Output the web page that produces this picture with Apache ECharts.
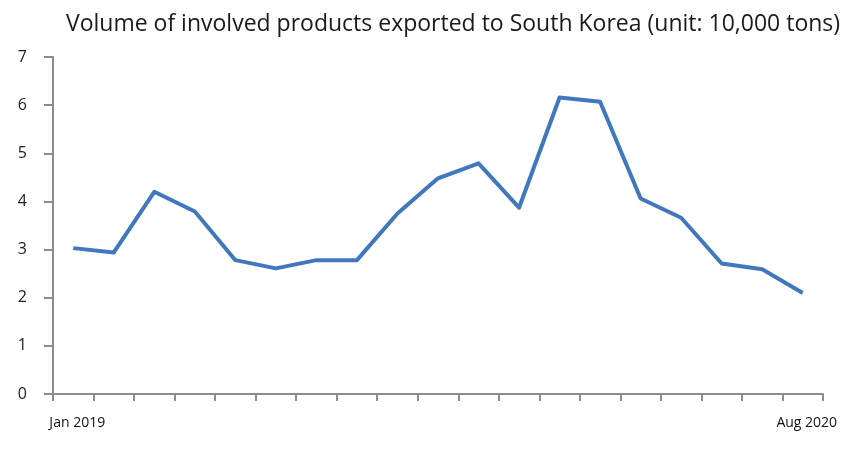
<!DOCTYPE html>
<html>
<head>
<meta charset="utf-8">
<script src="https://cdn.jsdelivr.net/npm/echarts@6/dist/echarts.min.js"></script>
<style>
html,body{margin:0;padding:0;background:#fff;}
#chart{width:863px;height:453px;}
</style>
</head>
<body>
<div id="chart"></div>
<script>
const titleText = 'Volume of involved products exported to South Korea (unit: 10,000 tons)';
const categories = ['Jan 2019','Feb 2019','Mar 2019','Apr 2019','May 2019','Jun 2019','Jul 2019','Aug 2019','Sep 2019','Oct 2019','Nov 2019','Dec 2019','Jan 2020','Feb 2020','Mar 2020','Apr 2020','May 2020','Jun 2020','Aug 2020'];
const values = [3.03, 2.94, 4.20, 3.79, 2.78, 2.61, 2.78, 2.78, 3.75, 4.48, 4.79, 3.87, 6.16, 6.07, 4.06, 3.66, 2.71, 2.59, 2.10];
const yTicks = [0, 1, 2, 3, 4, 5, 6, 7];

const chart = echarts.init(document.getElementById('chart'));
chart.setOption({
  animation: false,
  backgroundColor: '#ffffff',
  title: {
    text: titleText,
    left: 448,
    textAlign: 'center',
    top: 8,
    textStyle: { fontFamily: 'Open Sans', fontSize: 23, fontWeight: 'normal', color: '#1a1a1a' }
  },
  grid: { left: 53, right: 40, top: 57, bottom: 59, containLabel: false },
  xAxis: {
    type: 'category',
    data: categories,
    boundaryGap: true,
    axisLine: { lineStyle: { color: '#8c8c8c', width: 2 } },
    axisTick: { show: true, length: 7, lineStyle: { color: '#8c8c8c', width: 2 }, alignWithLabel: false, interval: 0 },
    axisLabel: {
      interval: function (i) { return i === 0 || i === categories.length - 1; },
      margin: 22,
      padding: [0, 0, 0, 8],
      color: '#111',
      fontFamily: 'Open Sans',
      fontSize: 14
    },
    splitLine: { show: false }
  },
  yAxis: {
    type: 'value',
    min: yTicks[0],
    max: yTicks[yTicks.length - 1],
    interval: 1,
    axisLine: { show: true, lineStyle: { color: '#8c8c8c', width: 2 } },
    axisTick: { show: true, length: 9, lineStyle: { color: '#8c8c8c', width: 2 } },
    axisLabel: { margin: 26, color: '#222', fontFamily: 'Open Sans', fontSize: 16 },
    splitLine: { show: false }
  },
  series: [{
    type: 'line',
    data: values,
    symbol: 'none',
    lineStyle: { color: '#4177bd', width: 4, join: 'round' },
    itemStyle: { color: '#4177bd' }
  }]
});
</script>
</body>
</html>
